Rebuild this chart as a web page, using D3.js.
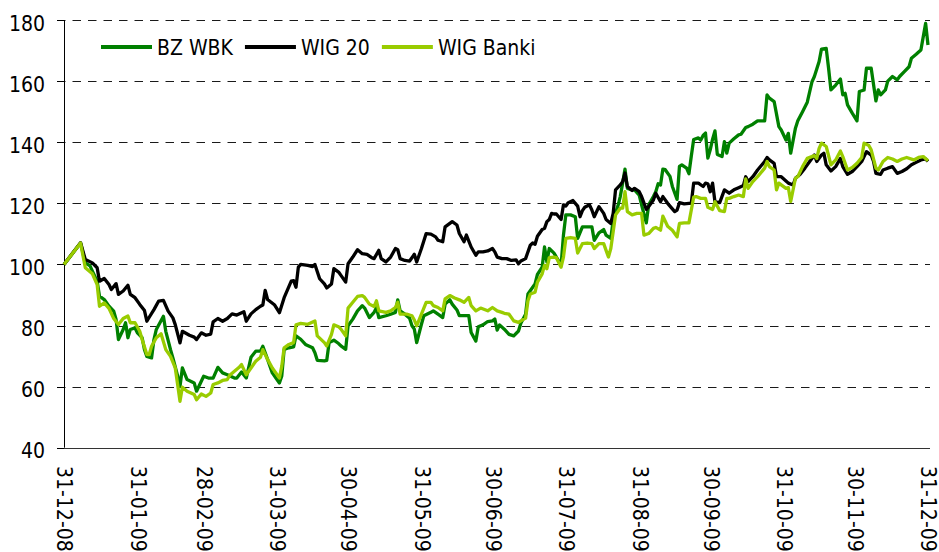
<!DOCTYPE html>
<html>
<head>
<meta charset="utf-8">
<script src="https://cdn.jsdelivr.net/npm/d3@7/dist/d3.min.js"></script>
<style>
  html, body { margin: 0; padding: 0; background: #fff; }
  svg text { font-family: "DejaVu Sans Condensed", "DejaVu Sans", sans-serif; font-stretch: condensed; font-size: 21px; fill: #000; }
</style>
</head>
<body>
<svg id="chart" width="939" height="552"></svg>
<script>
// index values, base 31-12-08 = 100; each point is [days after 31-12-08, value]
const startDate = "2008-12-31";
const seriesNames = ["BZ WBK", "WIG 20", "WIG Banki"];
const tickDates = ["2008-12-31", "2009-01-31", "2009-02-28", "2009-03-31", "2009-04-30", "2009-05-31",
  "2009-06-30", "2009-07-31", "2009-08-31", "2009-09-30", "2009-10-31", "2009-11-30", "2009-12-31"];
const yTicks = [40, 60, 80, 100, 120, 140, 160, 180];

const bzWbk = [
  [0,100],[7,107],[9,100.5],[11,99.5],[12,97.8],[14,94.5],[15,89.6],[17,88.5],[19,86.3],[21,84.7],[22,82],[23,75.4],
  [25,78.7],[26,80.9],[27,76],[28,78.7],[30,79.2],[31,77.6],[33,76],[34,72.1],[35,69.9],[37,69.4],[38,75.4],[39,78.7],
  [42,83],[43,78.1],[45,72.1],[46,69.4],[48,63.5],[49,60],[50,66.1],[52,62.3],[55,61.2],[56,58.5],[59,63.4],[61,62.8],
  [63,62.8],[65,66.3],[67,64.5],[69,63.9],[72,62.8],[73,62.8],[75,64.8],[77,62.8],[79,69.6],[81,71.6],[83,71.6],[84,73.2],
  [86,68.9],[88,64.5],[91,61.2],[92,63.5],[93,72.2],[95,72.7],[97,73],[98,76.6],[100,75.5],[102,73.8],[105,72.7],[106,71.1],
  [107,68.6],[110,68.4],[111,68.6],[112,74.4],[114,75.2],[116,74.1],[117,73.3],[119,72.2],[120,79.9],[122,82.1],[124,84.8],
  [126,86.5],[127,85.7],[129,82.6],[131,84.3],[132,85.9],[133,82.6],[136,83.2],[138,83.7],[140,84.3],[141,88.4],[142,84.8],
  [144,83.7],[146,82.4],[147,79.9],[148,78.8],[149,74.4],[151,80.4],[152,83.2],[155,84.3],[156,84.8],[158,83.7],[160,82.6],
  [161,87],[163,88.4],[164,87],[166,85.1],[167,83.2],[169,83.2],[171,83.2],[172,77.7],[174,74.9],[175,79.6],[177,80.2],
  [179,81.3],[181,81.5],[182,82.1],[183,78.5],[184,80.2],[186,78.8],[188,77.1],[190,76.6],[192,78.2],[193,80.7],[195,83.7],
  [196,90.3],[198,92.5],[199,93.6],[200,96.7],[202,99.1],[203,105.7],[204,100.8],[205,105.2],[207,103.7],[208,102.4],
  [210,99.7],[211,109.6],[212,116.2],[214,116.2],[216,115.6],[217,108.5],[219,112.3],[221,112.3],[223,112.3],[224,107.9],
  [226,110.3],[228,111.4],[229,109.6],[231,108.5],[232,114.5],[234,119.1],[235,122.2],[236,126.6],[237,131.2],[238,124.9],
  [240,124.4],[241,124.4],[243,122.7],[244,119.5],[246,113.6],[247,119.5],[249,122.2],[250,123.8],[251,126.4],[252,126],
  [253,131.2],[254,131],[256,128.8],[257,125.5],[259,121.3],[260,132.1],[261,132.6],[263,131.5],[264,129.7],[265,135.4],
  [266,140.9],[268,141.4],[269,140.7],[270,142.2],[271,143],[272,134.8],[273,137.5],[274,141],[275,143.7],[276,136],
  [278,135.3],[279,140.2],[280,136.4],[281,139.7],[283,141.1],[285,142.4],[286,142.6],[288,144.8],[289,145.1],[291,145.9],
  [293,147],[296,147],[297,155.5],[298,154.4],[300,153.3],[302,145.1],[303,144],[305,140.7],[306,142.9],[307,136.4],
  [309,144.6],[310,147],[312,150],[314,153.1],[316,159.8],[317,161.5],[319,166.4],[320,170.5],[322,170.7],[323,164.2],
  [324,157.1],[326,158.7],[328,160.7],[329,155.5],[330,156],[331,152.2],[333,149.5],[335,147],[336,156.6],[338,157.1],
  [339,164.2],[341,164.2],[343,153.5],[344,157.1],[345,155.5],[347,157.1],[348,160],[350,161.5],[352,160.4],[353,161.5],
  [355,163.1],[357,164.7],[358,167.5],[360,168.8],[362,170.2],[364,178.9],[365,171.8]
];

const wig20 = [
  [0,100],[7,107.1],[9,101.6],[12,100.5],[14,98.9],[15,94.5],[17,95.4],[19,93.4],[20,91.8],[22,93.7],[23,90.2],[25,91.3],
  [27,93.2],[28,90.2],[30,89.1],[32,86.9],[34,84.9],[35,81.4],[36,82.7],[38,85.2],[40,88],[42,88.2],[44,84.7],[46,82.5],
  [47,80.3],[49,74.3],[50,78.1],[53,76.8],[55,76.2],[56,75.4],[58,77.6],[60,76.8],[62,77.2],[63,81.2],[65,82.3],[67,81.4],
  [69,82.3],[71,83.8],[73,83.4],[76,84.5],[77,81.4],[79,83.8],[81,85.2],[83,86.3],[84,86.7],[85,91.5],[86,88.5],[89,86.7],
  [91,84.2],[93,89.1],[96,94.5],[97,94.7],[98,92.5],[99,99.1],[100,100],[103,99.7],[105,99.3],[106,100],[108,95.3],
  [110,93.6],[111,92.3],[113,93.6],[114,98.6],[116,97.5],[117,96.4],[119,94.2],[120,100.2],[122,102.4],[124,104.8],
  [126,103.5],[128,103.3],[130,102.2],[131,101.9],[133,104.6],[134,101.9],[136,100.8],[138,102.4],[140,105.2],[141,104.8],
  [142,101.9],[144,101.3],[146,101.1],[148,103.3],[149,100.8],[151,105.2],[153,110.1],[155,109.9],[157,109],[158,107.9],
  [160,107.4],[161,112.3],[164,114],[166,112.9],[167,110.1],[169,107.4],[170,109.6],[172,105.7],[174,103],[175,104.1],
  [177,104.1],[179,104.4],[181,105.2],[182,104.1],[183,102.4],[185,101.9],[187,101.9],[189,101.3],[191,101.5],[192,100.2],
  [193,101.1],[195,101.9],[197,106.3],[198,107],[199,106.6],[200,109.2],[202,111.4],[203,111.8],[204,114],[205,114.7],
  [206,116.7],[207,116.5],[208,116.5],[210,114.7],[211,119.5],[212,119.1],[213,120.2],[215,120.9],[217,119.1],[218,115.6],
  [219,117.6],[220,118.7],[222,119.5],[223,117.8],[224,115.6],[226,118.9],[228,116.7],[229,114.7],[231,113.4],[232,116.7],
  [233,124.4],[235,126],[236,127.1],[237,129.9],[238,125.5],[240,124.2],[241,124.9],[243,123.8],[244,122.2],[246,118],
  [247,118.9],[249,121.1],[250,123.3],[252,120.5],[253,122.2],[255,120],[258,117.3],[259,117.8],[260,120.2],[262,119.8],
  [264,120],[265,120],[266,126.6],[268,126.6],[270,125.5],[271,126.6],[272,126.4],[273,123.8],[274,126.6],[275,120.5],
  [277,120.2],[279,124.4],[281,123.3],[283,124.4],[285,125.1],[287,125.8],[288,128.7],[289,127.1],[291,128.7],[293,130.9],
  [296,133.7],[297,135],[298,134.2],[300,133.1],[301,128.7],[303,128.7],[305,127.3],[306,126.6],[308,126],[309,128.2],
  [311,129.5],[313,131.5],[315,133.7],[317,135.8],[318,133.7],[320,135.8],[321,136.4],[322,132.6],[324,130.6],[326,132],
  [328,134.7],[329,132],[331,129.5],[333,130.4],[335,132],[337,133.7],[338,135.3],[339,136.9],[341,135.8],[342,133.7],
  [343,129.8],[345,129.5],[346,130.9],[348,131.5],[350,132],[352,129.8],[354,130.4],[356,131.3],[358,132.6],[360,133.4],
  [362,134.2],[364,134.5],[365,133.7]
];

const wigBanki = [
  [0,100],[7,107],[9,98.9],[12,96.9],[14,93.4],[15,86.3],[17,87.4],[19,85.6],[21,82.3],[23,80.3],[25,82.3],[27,83.1],
  [28,80.9],[30,80.9],[32,78.1],[33,75.4],[35,70.5],[36,70.5],[37,73.2],[39,76],[41,77.3],[43,72.1],[45,69.9],[47,66.1],
  [48,60.7],[49,55.2],[50,59.8],[52,58.5],[55,57.4],[56,55.7],[58,57.6],[60,56.8],[62,57.9],[63,60.7],[65,61.2],[67,62],
  [69,62.3],[70,63.7],[72,65],[74,66.3],[75,67.2],[77,63.9],[79,66.1],[81,68.3],[83,69.6],[84,72.1],[86,68.9],[88,66.1],
  [91,62.8],[92,66.7],[93,72.7],[95,73.8],[97,74.4],[98,80.2],[100,80.7],[103,80.4],[106,81.5],[107,76.6],[110,74.4],
  [111,73.3],[113,77.1],[114,80.2],[116,79.6],[117,78.8],[119,76.6],[120,85.7],[122,87.6],[124,89.5],[126,89.8],[127,89.2],
  [129,87],[131,86.2],[132,88.1],[133,84.8],[136,84.3],[138,84.8],[140,85.9],[141,87.6],[142,83.7],[145,83.7],[147,83.2],
  [148,81.8],[149,79.9],[151,83.7],[153,87.6],[155,87.6],[156,86.5],[158,85.9],[160,84.8],[161,88.7],[163,89.8],[165,89],
  [167,88.4],[169,87.6],[171,89.2],[172,86.5],[174,84.8],[176,85.7],[179,84.8],[181,85.9],[183,84.8],[185,84.3],[186,84],
  [188,83.7],[190,81.5],[192,81],[193,81.5],[195,82.4],[196,88.1],[197,90.3],[199,90.9],[200,94.2],[202,96.9],[203,99.7],
  [204,98.6],[205,102.2],[207,102.4],[208,102.2],[210,99.1],[211,102.4],[212,108.5],[214,108.8],[216,108.5],[217,103.7],
  [219,106.8],[221,107],[223,106.8],[224,105.2],[226,106.8],[228,106.8],[229,104.6],[230,102.4],[231,105.2],[233,116.2],
  [235,118.4],[236,118.4],[237,123.8],[238,117.3],[240,116.2],[242,116.7],[244,116.7],[245,109.6],[247,110.1],[249,111.8],
  [250,112.1],[252,111.2],[253,115.8],[255,112.5],[257,111.2],[259,109],[260,113.4],[262,113.6],[264,113.6],[266,122],
  [267,122.2],[269,121.6],[271,121.6],[272,118.7],[274,118],[275,120.5],[277,117.6],[279,117.3],[280,121.6],[281,121.6],
  [283,122.2],[285,122.7],[287,122.2],[288,128],[289,124.9],[291,127.1],[293,128.7],[296,131.5],[297,133.7],[298,132],
  [300,130.9],[301,124.4],[302,126.6],[305,124.9],[306,125.1],[307,120.6],[309,128.2],[310,128.7],[312,132],[314,134.7],
  [317,135.6],[318,134.7],[319,138],[320,139.7],[322,138.6],[324,132.6],[326,134.2],[328,137.1],[329,135.3],[331,130.9],
  [333,131.7],[335,133.1],[337,135],[338,139.7],[340,138.9],[341,137.5],[343,131.5],[344,130.9],[346,133.7],[348,135],
  [350,134.5],[352,133.7],[354,134.5],[356,135],[359,134.2],[361,135],[363,135.3],[365,133.9]
];

const colors = ["#008000", "#000000", "#99cc00"];

const svg = d3.select("#chart");
const margin = { top: 20, right: 11, bottom: 105, left: 64 };
const width = 939, height = 552;
const plotBottom = height - margin.bottom + 0.7;
const parse = d3.utcParse("%Y-%m-%d");
const start = parse(startDate);
const toDate = d => d3.utcDay.offset(start, d);

const x = d3.scaleUtc()
  .domain([parse(tickDates[0]), parse(tickDates[tickDates.length - 1])])
  .range([margin.left, 928]);

const y = d3.scaleLinear()
  .domain([40, 180])
  .range([plotBottom, margin.top]);

// dashed gridlines
svg.append("g")
  .selectAll("line")
  .data(yTicks.filter(t => t > 40))
  .join("line")
  .attr("x1", 57).attr("x2", 930)
  .attr("y1", d => Math.round(y(d)) + 0.5).attr("y2", d => Math.round(y(d)) + 0.5)
  .attr("stroke", "#1a1a1a")
  .attr("stroke-width", 1)
  .attr("stroke-dasharray", "8.5,7");

// y axis
const yAxis = svg.append("g");
yAxis.append("line")
  .attr("x1", margin.left + 0.5).attr("x2", margin.left + 0.5)
  .attr("y1", margin.top).attr("y2", plotBottom)
  .attr("stroke", "#000");
yAxis.selectAll(".tick")
  .data(yTicks)
  .join("line")
  .attr("x1", 57).attr("x2", margin.left)
  .attr("y1", d => Math.round(y(d)) + 0.5).attr("y2", d => Math.round(y(d)) + 0.5)
  .attr("stroke", "#000");
yAxis.selectAll("text")
  .data(yTicks)
  .join("text")
  .attr("x", 45)
  .attr("y", d => y(d) + 10.7)
  .attr("text-anchor", "end")
  .text(d => d);

// x axis
svg.append("line")
  .attr("x1", margin.left).attr("x2", 930)
  .attr("y1", Math.round(plotBottom) + 0.5).attr("y2", Math.round(plotBottom) + 0.5)
  .attr("stroke", "#333");

const fmt = d3.utcFormat("%d-%m-%y");
svg.append("g")
  .selectAll("text")
  .data(tickDates.map(parse))
  .join("text")
  .attr("transform", d => `translate(${x(d) + 1},466) rotate(90)`)
  .attr("dy", "0.36em")
  .attr("text-anchor", "start")
  .text(d => fmt(d));

// lines
const line = d3.line()
  .x(d => x(toDate(d[0])))
  .y(d => y(d[1]));

[bzWbk, wig20, wigBanki].forEach((s, i) => {
  svg.append("path")
    .datum(s)
    .attr("fill", "none")
    .attr("stroke", colors[i])
    .attr("stroke-width", 3.3)
    .attr("stroke-linejoin", "round")
    .attr("d", line);
});

// legend
let lx = 101;
const ly = 47;
seriesNames.forEach((name, i) => {
  svg.append("line")
    .attr("x1", lx).attr("x2", lx + 51)
    .attr("y1", ly).attr("y2", ly)
    .attr("stroke", colors[i])
    .attr("stroke-width", 4);
  const t = svg.append("text")
    .attr("x", lx + 56)
    .attr("y", ly + 8)
    .text(name);
  lx = lx + 56 + t.node().getComputedTextLength() + 12;
});
</script>
</body>
</html>
